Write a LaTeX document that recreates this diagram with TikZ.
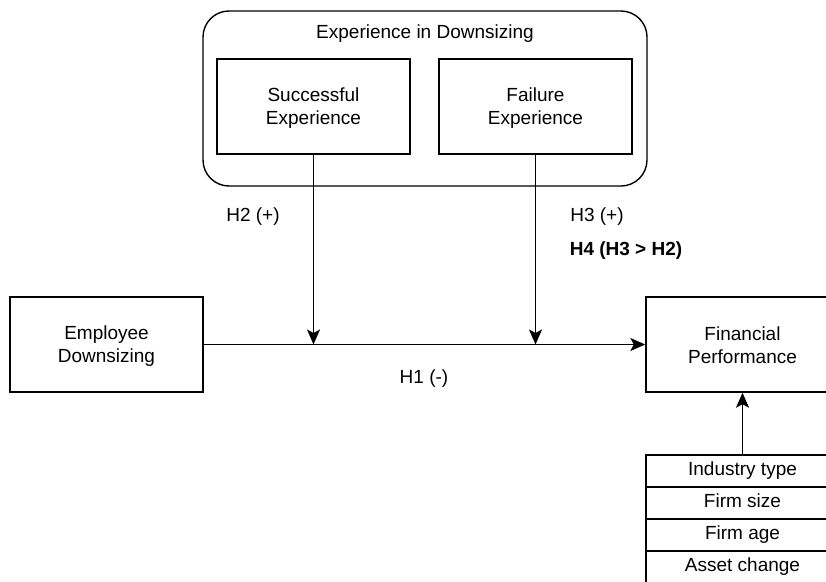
\documentclass[tikz,border=0pt]{standalone}
\usepackage{fontspec}
\setmainfont{Liberation Sans}
\usetikzlibrary{arrows.meta}

\tikzset{
  box/.style={draw, line width=1.4pt, minimum width=193pt, minimum height=95pt, align=center, inner sep=0pt},
  ctrlbox/.style={draw, line width=1.4pt, minimum width=193pt, minimum height=32pt, inner sep=0pt},
  link/.style={line width=1.4pt, -{Stealth[length=15pt,width=13pt,inset=3.5pt]}}
}

\begin{document}
\begin{tikzpicture}[x=1pt,y=-1pt,font=\fontsize{19}{23}\selectfont]
\useasboundingbox (0,0) rectangle (826,581);
\fill[white] (0,0) rectangle (826,581);

% moderators
\draw[line width=1.4pt, rounded corners=26pt] (203,11) rectangle (647,186);
\node (grp) at (425,34) {Experience in Downsizing};
\node[box] (succ) at (313.5,106.5) {\strut Successful\\Experience};
\node[box] (fail) at (535.5,106.5) {\strut Failure\\Experience};

% main effect
\node[box] (emp) at (106.5,344.5) {\strut Employee\\Downsizing};
\node[box] (fin) at (742.5,344.5) {\strut Financial\\Performance};
\draw[link] (emp) -- (fin);

\coordinate (m2) at (succ |- emp);
\coordinate (m3) at (fail |- emp);
\draw[link] (succ) -- (m2);
\draw[link] (fail) -- (m3);

\node (h2) at (253,217) {H2 (+)};
\node (h3) at (597,217) {H3 (+)};
\node (h4) at (626,251) {\bfseries H4 (H3 > H2)};
\node (h1) at (424,379) {H1 (-)};

% controls
\node[ctrlbox] (ind) at (742.5,471) {\strut Industry type};
\node[ctrlbox] (size) at (742.5,503) {\strut Firm size};
\node[ctrlbox] (age) at (742.5,535) {\strut Firm age};
\node[ctrlbox] (asset) at (742.5,567) {\strut Asset change};
\draw[link] (ind) -- (fin);

\end{tikzpicture}
\end{document}
